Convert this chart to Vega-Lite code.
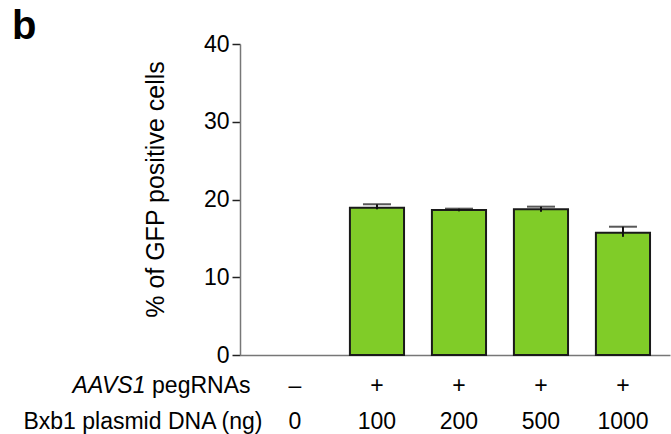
{
  "$schema": "https://vega.github.io/schema/vega-lite/v6.json",
  "width": 430,
  "height": 311,
  "autosize": "none",
  "padding": {"left": 240, "top": 44, "right": 1, "bottom": 79},
  "title": {"text": "b", "anchor": "start", "frame": "group", "fontSize": 40, "fontWeight": "bold", "font": "Liberation Sans", "color": "black", "dx": -228, "baseline": "alphabetic", "offset": 4, "dy": 50},
  "config": {"view": {"stroke": null}, "font": "Liberation Sans"},
  "data": {"values": [
    {"dose": "0", "value": 0, "lower": null, "upper": null},
    {"dose": "100", "value": 18.95, "lower": 18.74, "upper": 19.38},
    {"dose": "200", "value": 18.65, "lower": 18.48, "upper": 18.82},
    {"dose": "500", "value": 18.74, "lower": 18.42, "upper": 19.08},
    {"dose": "1000", "value": 15.73, "lower": 15.2, "upper": 16.5}
  ]},
  "layer": [
    {
      "mark": {"type": "bar", "fill": "#80cc28", "stroke": "#1a1a1a", "strokeWidth": 2},
      "encoding": {
        "x": {"field": "dose", "type": "nominal", "sort": null,
          "scale": {"paddingInner": 0.34, "paddingOuter": 0.292, "align": 0.583},
          "axis": {"orient": "bottom", "labelExpr": "datum.value == '0' ? '–' : '+'", "labelAngle": 0, "labelFontSize": 23, "labelColor": "black", "labelBaseline": "alphabetic", "labelPadding": 37, "ticks": false, "tickSize": 0, "domain": true, "domainColor": "#777", "domainWidth": 1.5,
            "title": "pegRNAs", "titleFontSize": 23, "titleFontWeight": "normal", "titleColor": "black", "titleAngle": 0, "titleAlign": "right", "titleBaseline": "alphabetic", "titleX": 10, "titleY": 37}},
        "y": {"field": "value", "type": "quantitative", "scale": {"domain": [0, 40]},
          "axis": {"title": "% of GFP positive cells", "titleFontSize": 25, "titleFontWeight": "normal", "titleColor": "black", "titlePadding": 35, "titleY": 145,
            "values": [0, 5, 10, 15, 20, 25, 30, 35, 40], "labelExpr": "datum.value % 10 == 0 ? datum.label : ''", "labelFontSize": 23, "labelColor": "black", "labelPadding": 3,
            "tickSize": {"condition": {"test": "datum.value % 10 != 0", "value": 3}, "value": 8}, "tickColor": "#222", "tickWidth": 1.5, "domainColor": "#777", "domainWidth": 1.5, "grid": false}},
        "strokeOpacity": {"condition": {"test": "datum.value > 0", "value": 1}, "value": 0}
      }
    },
    {
      "mark": {"type": "rule", "color": "#111", "strokeWidth": 2},
      "encoding": {
        "x": {"field": "dose", "type": "nominal", "sort": null,
          "axis": {"orient": "bottom", "labelAngle": 0, "labelFontSize": 23, "labelColor": "black", "labelBaseline": "alphabetic", "labelPadding": 73, "ticks": false, "tickSize": 0, "domain": false,
            "title": "Bxb1 plasmid DNA (ng)", "titleFontSize": 23, "titleFontWeight": "normal", "titleColor": "black", "titleAngle": 0, "titleAlign": "right", "titleBaseline": "alphabetic", "titleX": 22, "titleY": 73}},
        "y": {"field": "lower", "type": "quantitative"},
        "y2": {"field": "upper"}
      }
    },
    {
      "mark": {"type": "tick", "color": "#111", "thickness": 2, "size": 28},
      "encoding": {
        "x": {"field": "dose", "type": "nominal", "sort": null,
          "axis": {"orient": "bottom", "labels": false, "ticks": false, "tickSize": 0, "domain": false,
            "title": "AAVS1", "titleFontSize": 23, "titleFontWeight": "normal", "titleFontStyle": "italic", "titleColor": "black", "titleAngle": 0, "titleAlign": "right", "titleBaseline": "alphabetic", "titleX": -95, "titleY": 37}},
        "y": {"field": "upper", "type": "quantitative"}
      }
    }
  ],
  "resolve": {"axis": {"x": "independent"}}
}
